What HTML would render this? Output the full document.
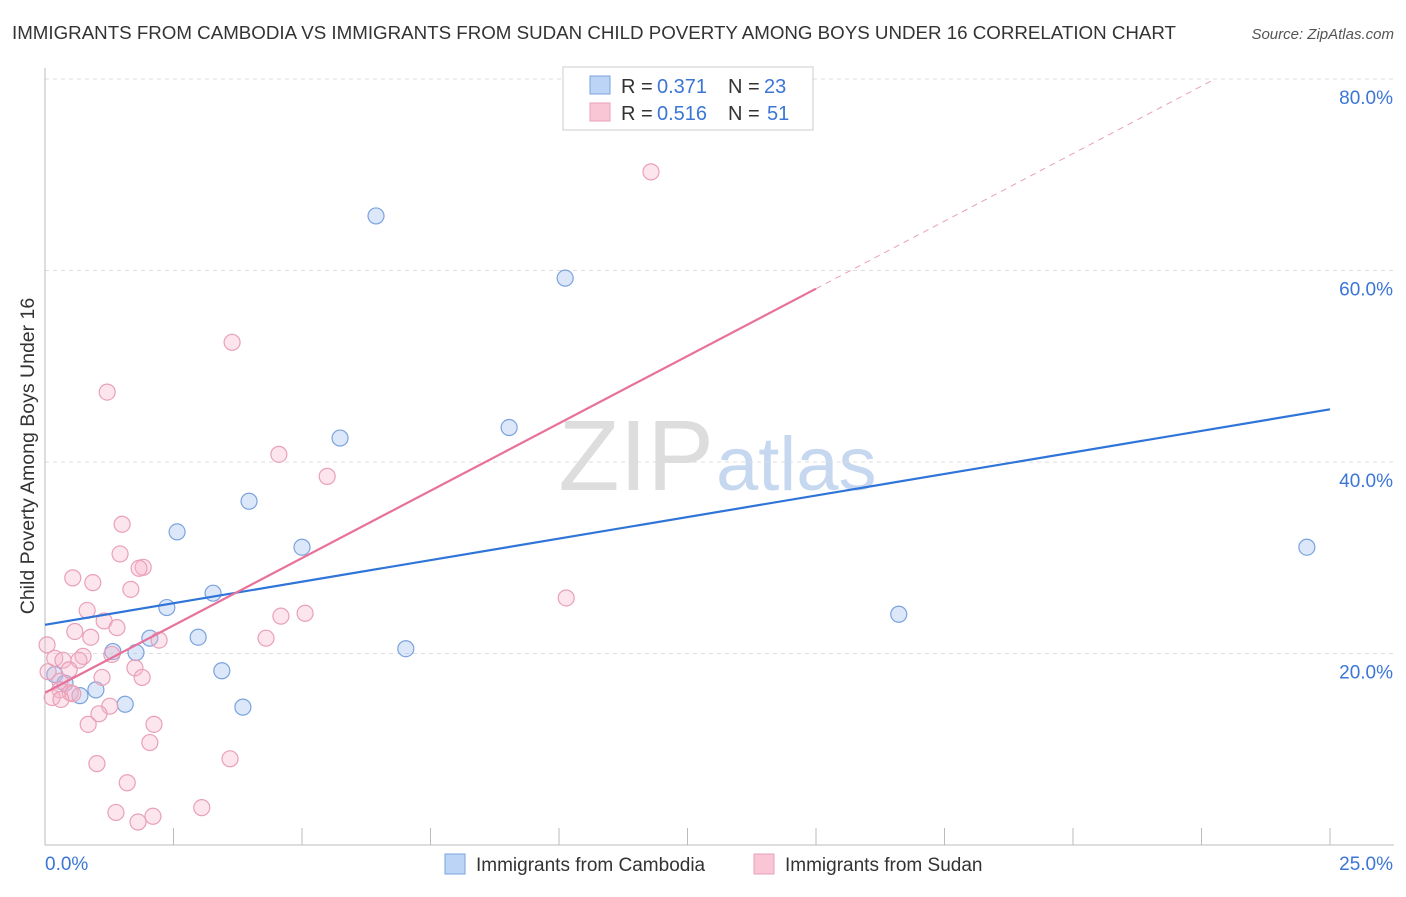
<!DOCTYPE html>
<html><head><meta charset="utf-8"><style>
body{margin:0;background:#fff;font-family:"Liberation Sans",sans-serif}
svg text{font-family:"Liberation Sans",sans-serif}
</style></head><body>
<svg id="c" width="1406" height="892">
<text x="12" y="39" font-size="18" fill="#333" textLength="1164" lengthAdjust="spacingAndGlyphs">IMMIGRANTS FROM CAMBODIA VS IMMIGRANTS FROM SUDAN CHILD POVERTY AMONG BOYS UNDER 16 CORRELATION CHART</text>
<text x="1394" y="39" font-size="15" fill="#555" font-style="italic" text-anchor="end">Source: ZipAtlas.com</text>
<text x="714" y="490" font-size="100" fill="#ddd" text-anchor="end" font-family="Liberation Serif">ZIP</text>
<text x="716" y="490" font-size="76" fill="#c6d8f0">atlas</text>
<g id="grid"></g>
<g id="axes"></g>
<g id="pts"></g>
<g id="lines"></g>
<text transform="translate(34,456) rotate(-90)" font-size="19.5" fill="#333" text-anchor="middle">Child Poverty Among Boys Under 16</text>
<g>
<rect x="563" y="67" width="250" height="63" fill="#fff" stroke="#ccc"/>
<rect x="590" y="76" width="20" height="18" fill="#bcd4f5" stroke="#7aa3de"/>
<rect x="590" y="103" width="20" height="18" fill="#f9c6d6" stroke="#e9a0b8"/>
<text x="621" y="93" font-size="20" fill="#333">R =</text>
<text x="657" y="93" font-size="20" fill="#3b76d6">0.371</text>
<text x="728" y="93" font-size="20" fill="#333">N =</text>
<text x="764" y="93" font-size="20" fill="#3b76d6">23</text>
<text x="621" y="120" font-size="20" fill="#333">R =</text>
<text x="657" y="120" font-size="20" fill="#3b76d6">0.516</text>
<text x="728" y="120" font-size="20" fill="#333">N =</text>
<text x="767" y="120" font-size="20" fill="#3b76d6">51</text>
</g>
<g>
<rect x="445" y="854" width="20" height="20" fill="#bcd4f5" stroke="#7aa3de"/>
<text x="476" y="871" font-size="19" fill="#333">Immigrants from Cambodia</text>
<rect x="754" y="854" width="20" height="20" fill="#f9c6d6" stroke="#e9a0b8"/>
<text x="785" y="871" font-size="19" fill="#333">Immigrants from Sudan</text>
</g>
</svg>
<script>
const xTicks=[0,2.5,5,7.5,10,12.5,15,17.5,20,22.5,25];
const yTicks=[20,40,60,80];
const yTickLabels=["20.0%","40.0%","60.0%","80.0%"];
const xEndLabels=["0.0%","25.0%"];
const cambX=[6.44,10.12,5.74,9.03,3.97,2.57,5.0,24.55,3.27,2.37,16.61,2.98,2.04,1.32,1.77,7.02,3.44,0.19,0.39,0.99,0.68,1.56,3.85];
const cambY=[65.7,59.2,42.5,43.6,35.9,32.7,31.1,31.1,26.3,24.8,24.1,21.7,21.6,20.2,20.1,20.5,18.2,17.8,16.9,16.2,15.6,14.7,14.4];
const sudX=[11.79,3.64,1.21,4.55,5.49,1.5,1.46,1.91,1.83,0.54,0.93,1.67,10.14,0.82,5.06,4.59,1.15,1.4,0.58,0.89,4.3,2.22,0.04,1.3,0.74,0.19,0.35,0.66,1.75,0.47,0.06,1.11,1.89,0.29,0.29,0.49,0.54,0.14,0.31,1.26,1.05,0.84,2.12,2.04,3.6,1.01,1.6,1.38,3.05,2.1,1.81];
const sudY=[70.3,52.5,47.3,40.8,38.5,33.5,30.4,29.0,28.9,27.9,27.4,26.7,25.8,24.5,24.2,23.9,23.4,22.7,22.3,21.7,21.6,21.4,20.9,19.9,19.7,19.5,19.3,19.3,18.5,18.3,18.1,17.5,17.5,17.1,16.2,15.9,15.8,15.4,15.2,14.5,13.7,12.6,12.6,10.7,9.0,8.5,6.5,3.4,3.9,3.0,2.4];
const cambLine=[[0,23.0],[25,45.5]];
const sudLine=[[0,15.9],[15,58.1]];
const sudDash=[[15,58.1],[22.76,80]];
const NS="http://www.w3.org/2000/svg";
const X=v=>45+v*51.4, Y=v=>845-v*9.575;
function mk(t,a,p){const e=document.createElementNS(NS,t);for(const k in a)e.setAttribute(k,a[k]);p.appendChild(e);return e;}
const grid=document.getElementById('grid'),axes=document.getElementById('axes'),pts=document.getElementById('pts'),lines=document.getElementById('lines');
yTicks.forEach((t,i)=>{
 const l=mk('line',{x1:45,x2:1394,y1:Y(t),y2:Y(t),stroke:'#ddd','stroke-dasharray':'4,4'},grid);
 
 
 const tx=mk('text',{x:1393,y:Y(t)+25,'font-size':19,fill:'#3b76d6','text-anchor':'end'},axes);
 tx.textContent=yTickLabels[i];
 
 
});
const ax=mk('line',{x1:45,x2:1394,y1:845,y2:845,stroke:'#bbb'},axes);


const ay=mk('line',{x1:45,x2:45,y1:68,y2:845,stroke:'#bbb'},axes);


xTicks.forEach(t=>{
 const l=mk('line',{x1:X(t),x2:X(t),y1:828,y2:845,stroke:'#bbb'},axes);
 
 
});
const l0=mk('text',{x:45,y:870,'font-size':19,fill:'#3b76d6'},axes);l0.textContent=xEndLabels[0];


const l1=mk('text',{x:1393,y:870,'font-size':19,fill:'#3b76d6','text-anchor':'end'},axes);l1.textContent=xEndLabels[1];


cambX.forEach((v,i)=>{
 const c=mk('circle',{cx:X(v),cy:Y(cambY[i]),r:8,fill:'rgba(168,198,240,0.4)',stroke:'#7aa3de','stroke-width':1.2},pts);
 
 
});
sudX.forEach((v,i)=>{
 const c=mk('circle',{cx:X(v),cy:Y(sudY[i]),r:8,fill:'rgba(246,180,200,0.35)',stroke:'#e9a0b8','stroke-width':1.2},pts);
 
 
});
const bl=mk('line',{x1:X(cambLine[0][0]),y1:Y(cambLine[0][1]),x2:X(cambLine[1][0]),y2:Y(cambLine[1][1]),stroke:'#2f74d8','stroke-width':2.2},lines);


const pl=mk('line',{x1:X(sudLine[0][0]),y1:Y(sudLine[0][1]),x2:X(sudLine[1][0]),y2:Y(sudLine[1][1]),stroke:'#e8719a','stroke-width':2.2},lines);


const pd=mk('line',{x1:X(sudDash[0][0]),y1:Y(sudDash[0][1]),x2:X(sudDash[1][0]),y2:Y(sudDash[1][1]),stroke:'#e8a0b8','stroke-width':1,'stroke-dasharray':'6,5'},lines);


</script>
</body></html>
